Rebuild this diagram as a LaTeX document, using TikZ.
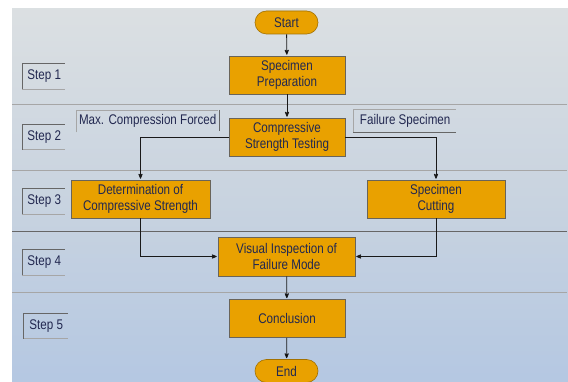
\documentclass[tikz,border=0pt]{standalone}
\usepackage{fontspec}
\setmainfont{Liberation Sans}[FakeStretch=0.83]
\usetikzlibrary{arrows}

\definecolor{boxorange}{RGB}{233,161,0}
\definecolor{boxedge}{RGB}{105,100,90}
\definecolor{textnavy}{RGB}{34,40,80}
\definecolor{bgtop}{RGB}{237,236,226}
\definecolor{bgtwo}{RGB}{220,224,226}
\definecolor{bgmid}{RGB}{200,211,224}
\definecolor{bgfour}{RGB}{178,198,226}
\definecolor{bgbot}{RGB}{196,213,235}
\pgfdeclareverticalshading{stagebg}{100bp}{color(0bp)=(bgbot); color(22bp)=(bgfour); color(49bp)=(bgmid); color(76bp)=(bgtwo); color(100bp)=(bgtop)}

\begin{document}
\begin{tikzpicture}[x=1pt,y=-1pt,>=stealth',shorten >=1pt,
  every node/.style={font=\fontsize{14}{16.7}\selectfont,text=textnavy},
  stage/.style={rectangle,fill=boxorange,draw=boxedge,line width=0.6pt,
    minimum width=116,minimum height=38,align=center,inner sep=0},
  term/.style={rectangle,rounded corners=11.5pt,fill=boxorange,draw=boxorange!70!black,
    line width=0.6pt,minimum width=63,minimum height=23,inner sep=0},
  steplabel/.style={anchor=west,minimum height=25,minimum width=44,inner sep=0},
  note/.style={anchor=north west,minimum height=22,inner sep=0},
  rim/.style={draw=black!60,line width=0.6pt},
  softrim/.style={draw=black!35,line width=0.6pt},
  flow/.style={->,draw=black!90,line width=0.8pt}]

  \useasboundingbox (0,0) rectangle (568,382);

  % background and step bands
  \shade[shading=stagebg] (12,9) rectangle (568,382);
  \draw[black!35,line width=0.8pt] (12,104.5) -- (568,104.5);
  \draw[black!35,line width=0.8pt] (12,170) -- (568,170);
  \draw[black!60,line width=0.9pt] (12,231.5) -- (568,231.5);
  \draw[black!35,line width=0.8pt] (12,292.5) -- (568,292.5);

  \node[term] (start) at (286.5,22.5) {Start};
  \node[stage] (prep) at (287,75) {Specimen\\Preparation};
  \node[stage] (test) at (287,137) {Compressive\\Strength Testing};
  \node[stage,minimum width=139] (detm) at (140.5,199) {Determination of\\Compressive Strength};
  \node[stage,minimum width=138] (cut) at (436,199) {Specimen\\Cutting};
  \node[stage,minimum width=137,minimum height=39] (insp) at (286.5,256.5) {Visual Inspection of\\Failure Mode};
  \node[stage] (concl) at (287,318.5) {Conclusion};
  \node[term] (stop) at (286.5,371) {End};

  \node[steplabel] (s1) at (22,76.5) {Step 1};
  \node[steplabel] (s2) at (22,137) {Step 2};
  \node[steplabel] (s3) at (22,201.5) {Step 3};
  \node[steplabel] (s4) at (22,262.5) {Step 4};
  \node[steplabel,minimum width=46] (s5) at (23,326) {Step 5};

  \node[note,minimum width=143] (maxf) at (76,110) {Max. Compression Forced};
  \node[note,minimum width=104,minimum height=23] (fail) at (353,109) {Failure Specimen};

  % label frames
  \draw[softrim] (s1.south west) -- (s1.south east);
  \draw[rim] (s1.south west) -- (s1.north west) -- (s1.north east);
  \draw[softrim] (s2.south west) -- (s2.south east);
  \draw[rim] (s2.south west) -- (s2.north west) -- (s2.north east);
  \draw[softrim] (s3.south west) -- (s3.south east);
  \draw[rim] (s3.south west) -- (s3.north west) -- (s3.north east);
  \draw[softrim] (s4.south west) -- (s4.south east);
  \draw[rim] (s4.south west) -- (s4.north west) -- (s4.north east);
  \draw[softrim] (s5.south west) -- (s5.south east);
  \draw[rim] (s5.south west) -- (s5.north west) -- (s5.north east);
  \draw[softrim] (maxf.south west) -- (maxf.north west) -- (maxf.north east);
  \draw[rim] (maxf.north east) -- (maxf.south east);
  \draw[softrim] (fail.south west) -- (fail.north west) -- (fail.north east);
  \draw[rim] (fail.south west) -- (fail.south east);

  \path[flow]
    (start) edge (prep)
    (prep) edge (test)
    (insp) edge (concl)
    (concl) edge (stop);
  \draw[flow] (test.west) -| (detm);
  \draw[flow] (test.east) -| (cut);
  \draw[flow] (detm) |- (insp);
  \draw[flow] (cut) |- (insp);

\end{tikzpicture}
\end{document}
